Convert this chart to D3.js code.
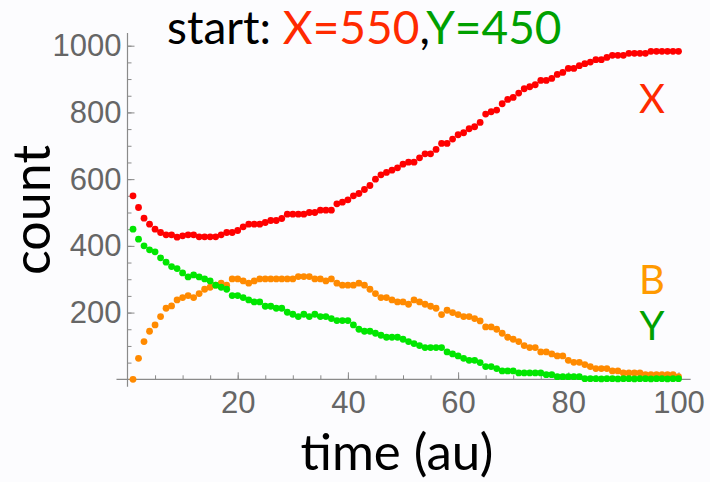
<!DOCTYPE html>
<html>
<head>
<meta charset="utf-8">
<script src="https://cdn.jsdelivr.net/npm/d3@7"></script>
<style>
  html, body { margin: 0; padding: 0; background: #fcfcfe; }
  svg { display: block; }
</style>
</head>
<body>
<div id="chart"></div>
<script>
// time steps 1..100
const times = d3.range(1, 101);

const seriesX = [550, 515, 483, 465, 450, 440, 433, 433, 426, 430,
  433, 433, 427, 427, 427, 427, 433, 440, 440, 446,
  457, 465, 465, 465, 470, 476, 476, 482, 495, 495,
  495, 495, 500, 500, 507, 507, 507, 526, 531, 538,
  550, 557, 569, 581, 600, 613, 620, 627, 634, 645,
  651, 651, 664, 676, 676, 689, 707, 707, 720, 733,
  739, 751, 757, 770, 795, 802, 807, 826, 839, 845,
  858, 871, 877, 883, 896, 896, 902, 914, 920, 932,
  932, 940, 946, 951, 958, 958, 965, 971, 971, 971,
  977, 977, 977, 977, 983, 983, 983, 983, 983, 983];

const seriesY = [450, 420, 400, 388, 382, 364, 351, 338, 332, 319,
  307, 313, 307, 301, 295, 282, 276, 270, 251, 251,
  245, 238, 232, 232, 219, 219, 213, 213, 201, 195,
  188, 195, 188, 195, 188, 188, 182, 176, 176, 176,
  163, 150, 144, 144, 138, 132, 126, 126, 126, 120,
  113, 107, 101, 95, 95, 95, 95, 82, 76, 70,
  63, 57, 57, 50, 38, 38, 32, 25, 25, 25,
  19, 19, 19, 19, 19, 14, 14, 8, 8, 8,
  8, 8, 2, 2, 2, 1, 2, 2, 1, 2,
  2, 1, 2, 2, 1, 2, 2, 1, 2, 2];

const seriesB = [0, 63, 113, 144, 163, 188, 213, 220, 238, 245,
  251, 245, 257, 270, 276, 282, 288, 282, 301, 301,
  295, 288, 295, 301, 301, 301, 301, 301, 301, 301,
  308, 308, 308, 301, 301, 295, 301, 288, 282, 282,
  282, 288, 282, 270, 257, 245, 245, 238, 232, 232,
  225, 238, 232, 225, 219, 213, 194, 207, 200, 194,
  188, 188, 182, 175, 157, 157, 150, 138, 126, 120,
  113, 101, 95, 95, 82, 82, 76, 70, 70, 57,
  51, 51, 44, 38, 32, 32, 32, 25, 25, 19,
  19, 19, 19, 14, 14, 14, 14, 14, 14, 8];

const xMajor = [20, 40, 60, 80, 100];
const xMinor = d3.range(5, 101, 5);
const yMajor = [200, 400, 600, 800, 1000];
const yMinor = d3.range(50, 1001, 50);

const series = [
  { name: 'B', values: seriesB, dot: '#ff8a00' },
  { name: 'Y', values: seriesY, dot: '#00e600' },
  { name: 'X', values: seriesX, dot: '#ff0000' }
];

const W = 710, H = 482;
const svg = d3.select('#chart').append('svg')
  .attr('width', W).attr('height', H);

const x = d3.scaleLinear().domain([0, 100]).range([127.5, 678.5]);
const y = d3.scaleLinear().domain([0, 1000]).range([379.3, 45.7]);

const axisCol = '#8a8a8a';
const tickFont = '"Liberation Sans", Arial, sans-serif';
const textFont = 'Lato, "Open Sans", sans-serif';

// minor ticks
svg.append('g')
  .attr('transform', `translate(0,${y(0)})`)
  .call(d3.axisBottom(x).tickValues(xMinor).tickSize(-4).tickFormat(''))
  .call(g => g.select('.domain').remove());
svg.append('g')
  .attr('transform', `translate(${x(0)},0)`)
  .call(d3.axisLeft(y).tickValues(yMinor).tickSize(-4).tickFormat(''))
  .call(g => g.select('.domain').remove());

// major ticks with labels
svg.append('g')
  .attr('transform', `translate(0,${y(0)})`)
  .call(d3.axisBottom(x).tickValues(xMajor).tickFormat(d3.format('d')).tickSize(-7).tickPadding(12))
  .call(g => g.select('.domain').remove())
  .call(g => g.selectAll('text').attr('dy', '0.71em'));
svg.append('g')
  .attr('transform', `translate(${x(0)},0)`)
  .call(d3.axisLeft(y).tickValues(yMajor).tickFormat(d3.format('d')).tickSize(-7).tickPadding(6))
  .call(g => g.select('.domain').remove());

svg.selectAll('.tick line').attr('stroke', axisCol);
svg.selectAll('.tick text')
  .attr('fill', '#666')
  .style('font-family', tickFont)
  .style('font-size', '31px');

// axis lines
svg.append('line')
  .attr('x1', x(-2)).attr('x2', x(102.2))
  .attr('y1', y(0)).attr('y2', y(0))
  .attr('stroke', axisCol).attr('stroke-width', 1.2);
svg.append('line')
  .attr('x1', x(0)).attr('x2', x(0))
  .attr('y1', y(-22)).attr('y2', y(1038))
  .attr('stroke', axisCol).attr('stroke-width', 1.2);

// dots
series.forEach(s => {
  svg.append('g')
    .selectAll('circle')
    .data(s.values)
    .join('circle')
      .attr('cx', (d, i) => x(times[i]))
      .attr('cy', d => y(d))
      .attr('r', 3.4)
      .attr('fill', s.dot);
});

// series labels
const labels = [
  { text: 'X', color: '#ff2a00', yy: 113 },
  { text: 'B', color: '#ff9a00', yy: 294 },
  { text: 'Y', color: '#00a000', yy: 340 }
];
svg.selectAll('.slabel')
  .data(labels)
  .join('text')
    .attr('class', 'slabel')
    .attr('x', 652).attr('y', d => d.yy)
    .attr('text-anchor', 'middle')
    .attr('fill', d => d.color)
    .style('font-family', textFont)
    .style('font-size', '40px')
    .text(d => d.text);

// title
const title = svg.append('text')
  .attr('x', 167).attr('y', 44)
  .style('font-family', textFont)
  .style('font-size', '46px');
title.append('tspan').attr('fill', '#000').text('start: ');
title.append('tspan').attr('fill', '#ff2a00').text('X=550');
title.append('tspan').attr('fill', '#000').text(',');
title.append('tspan').attr('fill', '#00a000').text('Y=450');

// axis titles
svg.append('text')
  .attr('transform', 'translate(50,210) rotate(-90)')
  .attr('text-anchor', 'middle')
  .style('font-family', textFont)
  .style('font-size', '52px')
  .text('count');

svg.append('text')
  .attr('x', 397).attr('y', 470)
  .attr('text-anchor', 'middle')
  .style('font-family', textFont)
  .style('font-size', '51px')
  .text('time (au)');
</script>
</body>
</html>
